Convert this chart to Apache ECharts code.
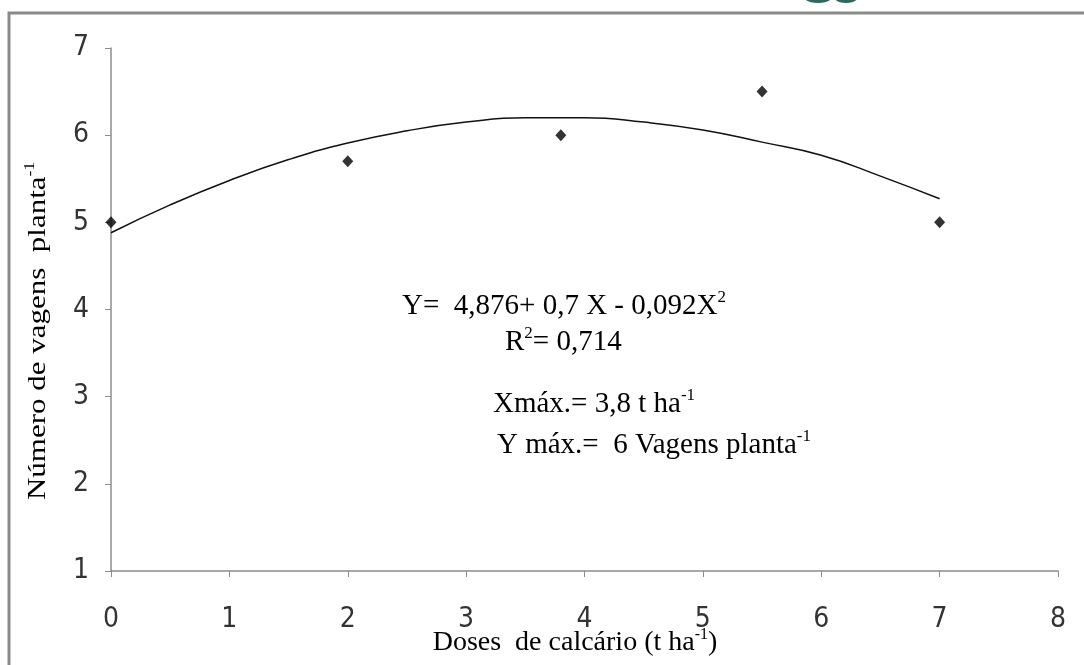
<!DOCTYPE html>
<html><head><meta charset="utf-8">
<script src="https://cdn.jsdelivr.net/npm/echarts@6/dist/echarts.min.js"></script>
<style>html,body{margin:0;padding:0;background:#fff}#c{width:1084px;height:665px}</style>
</head><body><div id="c"></div>
<script>
var doses = [0, 2, 3.8, 5.5, 7];
var vagens = [5.0, 5.7, 6.0, 6.5, 5.0];
var curveX = [0, 0.5, 1, 1.5, 2, 2.5, 3, 3.5, 4, 4.5, 5, 5.5, 6, 6.5, 7];
var curveY = [4.88, 5.2, 5.48, 5.72, 5.91, 6.05, 6.15, 6.2, 6.2, 6.15, 6.06, 5.92, 5.77, 5.53, 5.27];
var xTicks = [0, 1, 2, 3, 4, 5, 6, 7, 8];
var yTicks = [1, 2, 3, 4, 5, 6, 7];

var chart = echarts.init(document.getElementById('c'));
var serif = 'Liberation Serif';
var tickFont = '"Liberation Sans Narrow", "DejaVu Sans Condensed", sans-serif';
function mkRich(fs) {
  return {
    b: {fontFamily: serif, fontSize: fs, color: '#111', lineHeight: fs + 4},
    s: {fontFamily: serif, fontSize: Math.round(fs * 0.58), color: '#111', lineHeight: fs + 4, verticalAlign: 'top', padding: [0, 0, Math.round(fs * 0.45), 0]}
  };
}
var r29 = mkRich(29), r28 = mkRich(28), r25 = mkRich(25);
chart.setOption({
  animation: false,
  grid: {left: 111, top: 48, right: 26, bottom: 94},
  xAxis: {
    type: 'value', min: 0, max: 8, interval: 1,
    axisLine: {lineStyle: {color: '#8c8c8c', width: 1.5}},
    axisTick: {show: true, length: 6, lineStyle: {color: '#8c8c8c'}},
    splitLine: {show: false},
    axisLabel: {fontFamily: tickFont, fontSize: 28, color: '#333', margin: 35,
      formatter: function (v) { return xTicks.indexOf(v) >= 0 ? String(v) : ''; }}
  },
  yAxis: {
    type: 'value', min: 1, max: 7, interval: 1,
    axisLine: {show: true, lineStyle: {color: '#8c8c8c', width: 1.5}},
    axisTick: {show: true, length: 6, lineStyle: {color: '#8c8c8c'}},
    splitLine: {show: false},
    axisLabel: {fontFamily: tickFont, fontSize: 28, color: '#333', margin: 22,
      formatter: function (v) { return yTicks.indexOf(v) >= 0 ? String(v) : ''; }}
  },
  series: [
    {type: 'line', data: curveX.map(function (x, i) { return [x, curveY[i]]; }), smooth: true, showSymbol: false,
      lineStyle: {color: '#111', width: 1.5}, z: 2},
    {type: 'scatter', data: doses.map(function (x, i) { return [x, vagens[i]]; }), symbol: 'diamond', symbolSize: [11, 12],
      itemStyle: {color: '#000'}, z: 3}
  ],
  graphic: [
    {type: 'polyline', shape: {points: [[9, 700], [9, 13], [1100, 13]]}, style: {stroke: '#8a8a8a', lineWidth: 3, fill: null}},
    {type: 'ellipse', shape: {cx: 818, cy: -3, rx: 14, ry: 6}, style: {fill: '#2b6b5e'}},
    {type: 'ellipse', shape: {cx: 846, cy: -3, rx: 12, ry: 6}, style: {fill: '#2b6b5e'}},
    {type: 'text', x: 575, y: 643, style: {text: '{b|Doses  de calcário (t ha}{s|-1}{b|)}', rich: r28, align: 'center', verticalAlign: 'middle'}},
    {type: 'text', x: 38, y: 331, rotation: Math.PI / 2, scaleX: 1.24, style: {text: '{b|Número de vagens  planta}{s|-1}', rich: r25, align: 'center', verticalAlign: 'middle'}},
    {type: 'text', x: 402, y: 306, style: {text: '{b|Y=  4,876+ 0,7 X - 0,092X}{s|2}', rich: r29, align: 'left', verticalAlign: 'middle'}},
    {type: 'text', x: 505, y: 342, style: {text: '{b|R}{s|2}{b|= 0,714}', rich: r29, align: 'left', verticalAlign: 'middle'}},
    {type: 'text', x: 493, y: 404, style: {text: '{b|Xmáx.= 3,8 t ha}{s|-1}', rich: r29, align: 'left', verticalAlign: 'middle'}},
    {type: 'text', x: 497, y: 445, style: {text: '{b|Y máx.=  6 Vagens planta}{s|-1}', rich: r29, align: 'left', verticalAlign: 'middle'}}
  ]
});
</script></body></html>
